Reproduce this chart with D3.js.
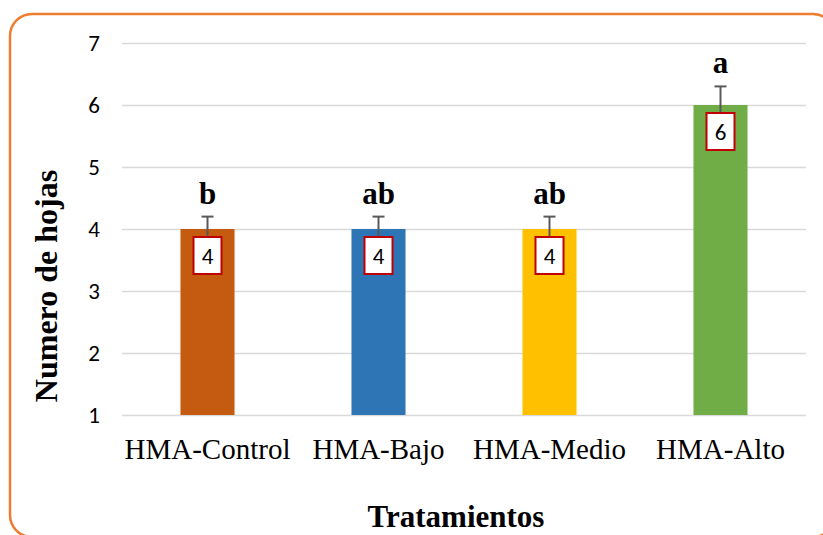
<!DOCTYPE html>
<html>
<head>
<meta charset="utf-8">
<script src="https://cdn.jsdelivr.net/npm/d3@7"></script>
<style>
  body { margin: 0; background: #fff; }
</style>
</head>
<body>
<svg id="chart"></svg>
<script>
const WIDTH = 823;
const HEIGHT = 535;

const categories = ["HMA-Control", "HMA-Bajo", "HMA-Medio", "HMA-Alto"];
const values = [4, 4, 4, 6];
const errors = [0.2, 0.2, 0.2, 0.3];
const letters = ["b", "ab", "ab", "a"];
const colors = ["#C55A11", "#2E75B6", "#FFC000", "#70AD47"];
const yTicks = [1, 2, 3, 4, 5, 6, 7];

const serif = "'Liberation Serif', 'Times New Roman', serif";
const sans = "Carlito, 'Open Sans', 'Liberation Sans', sans-serif";

const svg = d3.select("#chart")
    .attr("width", WIDTH)
    .attr("height", HEIGHT);

// orange rounded frame, running past the right and bottom edge
svg.append("rect")
    .attr("x", 10).attr("y", 14)
    .attr("width", 825).attr("height", 523)
    .attr("rx", 22).attr("ry", 22)
    .attr("fill", "#fff")
    .attr("stroke", "#ED7D31")
    .attr("stroke-width", 2.5);

const x = d3.scaleBand()
    .domain(categories)
    .range([122, 806])
    .paddingInner(0.684)
    .paddingOuter(0.342);

const y = d3.scaleLinear().domain([1, 7]).range([415, 43]);

// gridlines + tick labels
const yAxis = svg.append("g")
    .attr("transform", "translate(122,0)")
    .call(d3.axisLeft(y).tickValues(yTicks).tickFormat(d3.format("d")).tickSize(-684).tickPadding(22));
yAxis.select(".domain").remove();
yAxis.selectAll(".tick line").attr("stroke", "#d9d9d9").attr("stroke-width", 1.5);
yAxis.selectAll(".tick text")
    .attr("font-family", sans)
    .attr("font-size", 23)
    .attr("fill", "#000");

const rows = categories.map((c, i) => ({
    cat: c, value: values[i], err: errors[i], letter: letters[i], color: colors[i]
}));

const g = svg.append("g");

g.selectAll("rect.bar")
    .data(rows)
    .enter().append("rect")
    .attr("class", "bar")
    .attr("x", d => x(d.cat))
    .attr("width", x.bandwidth())
    .attr("y", d => y(d.value))
    .attr("height", d => y(1) - y(d.value))
    .attr("fill", d => d.color);

// error bars (upper only)
const eb = g.selectAll("g.err")
    .data(rows)
    .enter().append("g")
    .attr("class", "err")
    .attr("stroke", "#595959")
    .attr("stroke-width", 2);
eb.append("line")
    .attr("x1", d => x(d.cat) + x.bandwidth() / 2)
    .attr("x2", d => x(d.cat) + x.bandwidth() / 2)
    .attr("y1", d => y(d.value) + 12)
    .attr("y2", d => y(d.value + d.err));
eb.append("line")
    .attr("x1", d => x(d.cat) + x.bandwidth() / 2 - 6)
    .attr("x2", d => x(d.cat) + x.bandwidth() / 2 + 6)
    .attr("y1", d => y(d.value + d.err))
    .attr("y2", d => y(d.value + d.err));

// value label boxes
const lab = g.selectAll("g.lab")
    .data(rows)
    .enter().append("g")
    .attr("class", "lab")
    .attr("transform", d => `translate(${x(d.cat) + x.bandwidth() / 2},${y(d.value) + 8})`);
lab.append("rect")
    .attr("x", -14).attr("y", 0)
    .attr("width", 28).attr("height", 37)
    .attr("fill", "#fff")
    .attr("stroke", "#C00000")
    .attr("stroke-width", 2);
lab.append("text")
    .attr("y", 27)
    .attr("text-anchor", "middle")
    .attr("font-family", sans)
    .attr("font-size", 23)
    .text(d => d.value);

// significance letters
g.selectAll("text.letter")
    .data(rows)
    .enter().append("text")
    .attr("class", "letter")
    .attr("x", d => x(d.cat) + x.bandwidth() / 2)
    .attr("y", d => y(d.value + d.err) - 13)
    .attr("text-anchor", "middle")
    .attr("font-family", serif)
    .attr("font-weight", "bold")
    .attr("font-size", 31)
    .text(d => d.letter);

// category labels
svg.append("g").selectAll("text")
    .data(categories)
    .enter().append("text")
    .attr("x", d => x(d) + x.bandwidth() / 2)
    .attr("y", 459)
    .attr("text-anchor", "middle")
    .attr("font-family", serif)
    .attr("font-size", 29)
    .text(d => d);

// axis titles
svg.append("text")
    .attr("x", 456).attr("y", 527)
    .attr("text-anchor", "middle")
    .attr("font-family", serif)
    .attr("font-weight", "bold")
    .attr("font-size", 31)
    .text("Tratamientos");

svg.append("text")
    .attr("transform", "translate(57,286) rotate(-90)")
    .attr("text-anchor", "middle")
    .attr("font-family", serif)
    .attr("font-weight", "bold")
    .attr("font-size", 32)
    .text("Numero de hojas");
</script>
</body>
</html>
